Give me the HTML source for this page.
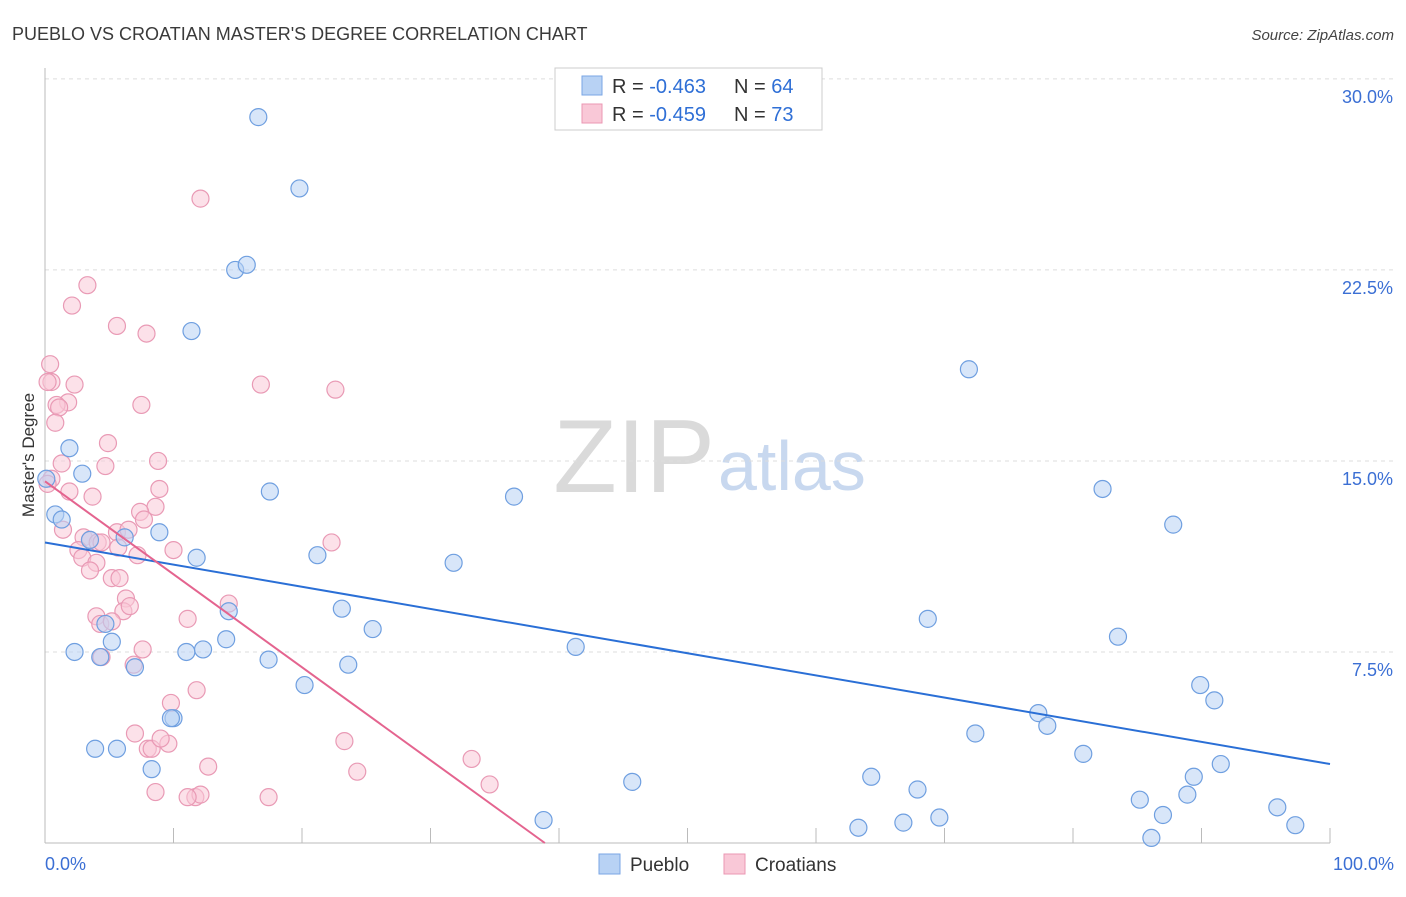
<!DOCTYPE html>
<html><head><meta charset="utf-8"><style>
body{margin:0;background:#fff;font-family:"Liberation Sans",sans-serif;}
svg text{font-family:"Liberation Sans",sans-serif;}
</style></head><body>
<svg id="chart" width="1406" height="892" xmlns="http://www.w3.org/2000/svg">
<text x="12" y="40" font-size="18" fill="#3a3a3a">PUEBLO VS CROATIAN MASTER'S DEGREE CORRELATION CHART</text>
<text x="1394" y="40" font-size="15" fill="#444" text-anchor="end" font-style="italic">Source: ZipAtlas.com</text>
<text x="715" y="492" font-size="104" text-anchor="end" fill="#dadada" font-family="Liberation Serif, serif">ZIP</text>
<text x="718" y="490" font-size="70" fill="#c8d8ef">atlas</text>
<text transform="translate(34,455) rotate(-90)" font-size="17" fill="#333" text-anchor="middle">Master's Degree</text>
<g id="grid"></g><g id="axes"></g><g id="marks"></g>
<g>
<rect x="555" y="68" width="267" height="62" fill="#fff" stroke="#ccc"/>
<rect x="582" y="76" width="20" height="19" fill="#b8d2f4" stroke="#7aa6e4"/>
<rect x="582" y="104" width="20" height="19" fill="#f9c8d7" stroke="#eb97b3"/>
<text x="612" y="93" font-size="20" fill="#333">R = <tspan fill="#2f6fd6">-0.463</tspan></text>
<text x="734" y="93" font-size="20" fill="#333">N = <tspan fill="#2f6fd6">64</tspan></text>
<text x="612" y="121" font-size="20" fill="#333">R = <tspan fill="#2f6fd6">-0.459</tspan></text>
<text x="734" y="121" font-size="20" fill="#333">N = <tspan fill="#2f6fd6">73</tspan></text>
</g>
<g>
<rect x="599" y="854" width="21" height="20" fill="#b8d2f4" stroke="#7aa6e4"/>
<text x="630" y="871" font-size="19" fill="#333">Pueblo</text>
<rect x="724" y="854" width="21" height="20" fill="#f9c8d7" stroke="#eb97b3"/>
<text x="755" y="871" font-size="19" fill="#333">Croatians</text>
</g>
</svg>
<script>
const yTicks=[7.5,15,22.5,30];
const yTickLabels=["7.5%","15.0%","22.5%","30.0%"];
const xTickLabels=["0.0%","100.0%"];
const blueX=[16.6,19.8,14.8,15.7,11.4,71.9,1.9,2.9,0.1,0.8,1.3,17.5,36.5,82.3,87.8,8.9,11.8,21.2,31.8,3.5,6.2,14.3,23.1,25.5,68.7,83.5,41.3,5.2,2.3,4.3,4.7,11.0,12.3,14.1,17.4,23.6,7.0,20.2,89.9,91.0,77.3,78.0,72.4,10.0,9.8,3.9,5.6,8.3,80.8,91.5,89.4,45.7,64.3,67.9,85.2,88.9,87.0,95.9,38.8,69.6,66.8,63.3,97.3,86.1];
const blueY=[28.5,25.7,22.5,22.7,20.1,18.6,15.5,14.5,14.3,12.9,12.7,13.8,13.6,13.9,12.5,12.2,11.2,11.3,11.0,11.9,12.0,9.1,9.2,8.4,8.8,8.1,7.7,7.9,7.5,7.3,8.6,7.5,7.6,8.0,7.2,7.0,6.9,6.2,6.2,5.6,5.1,4.6,4.3,4.9,4.9,3.7,3.7,2.9,3.5,3.1,2.6,2.4,2.6,2.1,1.7,1.9,1.1,1.4,0.9,1.0,0.8,0.6,0.7,0.2];
const pinkX=[12.1,3.3,2.1,5.6,7.9,0.4,0.5,0.2,2.3,16.8,22.6,7.5,1.8,0.9,1.1,0.8,4.9,8.8,1.3,4.7,0.5,0.2,1.9,3.7,8.9,8.6,7.4,7.7,1.4,5.6,3.0,6.5,3.5,4.1,4.4,5.7,22.3,10.0,2.6,2.9,7.2,4.0,3.5,5.2,5.8,6.3,4.0,6.1,6.6,14.3,4.3,5.2,11.1,7.6,4.4,6.9,9.8,11.8,7.0,9.6,8.0,8.3,23.3,9.0,33.2,12.7,24.3,8.6,34.6,11.7,12.1,17.4,11.1];
const pinkY=[25.3,21.9,21.1,20.3,20.0,18.8,18.1,18.1,18.0,18.0,17.8,17.2,17.3,17.2,17.1,16.5,15.7,15.0,14.9,14.8,14.3,14.1,13.8,13.6,13.9,13.2,13.0,12.7,12.3,12.2,12.0,12.3,11.9,11.8,11.8,11.6,11.8,11.5,11.5,11.2,11.3,11.0,10.7,10.4,10.4,9.6,8.9,9.1,9.3,9.4,8.6,8.7,8.8,7.6,7.3,7.0,5.5,6.0,4.3,3.9,3.7,3.7,4.0,4.1,3.3,3.0,2.8,2.0,2.3,1.8,1.9,1.8,1.8];
const blueTrend=[[0,11.8],[100,3.1]];
const pinkTrend=[[0,14.2],[38.9,0]];
const NS="http://www.w3.org/2000/svg";
const X=v=>45+v*12.85, Y=v=>843-v*25.47;
function mk(tag,attrs,parent){const e=document.createElementNS(NS,tag);for(const k in attrs)e.setAttribute(k,attrs[k]);document.getElementById(parent).appendChild(e);return e;}
yTicks.forEach((t,i)=>{
 const g=mk('line',{x1:45,x2:1394,y1:Y(t),y2:Y(t),stroke:'#ddd','stroke-dasharray':'4,4'},'grid');
 
 
 const l=mk('text',{x:1393,y:Y(t)+24,'font-size':18,fill:'#3b6fd4','text-anchor':'end'},'axes');l.textContent=yTickLabels[i];
 
 
});
const xa=mk('line',{x1:45,x2:1330,y1:843,y2:843,stroke:'#bbb'},'axes');


const ya=mk('line',{x1:45,x2:45,y1:68,y2:843,stroke:'#bbb'},'axes');


for(let i=0;i<=10;i++){const t=mk('line',{x1:X(i*10),x2:X(i*10),y1:828,y2:843,stroke:'#bbb'},'axes');
 
 }
[[0,'start',45],[100,'end',1394]].forEach((d,i)=>{const t=mk('text',{x:d[2],y:870,'font-size':18,fill:'#3b6fd4','text-anchor':d[1]},'axes');t.textContent=xTickLabels[i];
 
 });
function pts(xs,ys,fill,stroke,name){xs.forEach((x,i)=>{const c=mk('circle',{cx:X(x),cy:Y(ys[i]),r:8.5,fill:fill,'fill-opacity':0.55,stroke:stroke,'stroke-width':1.2},'marks');
 
 });}
pts(pinkX,pinkY,'#f9c8d7','#e99ab5','croatians-point');
pts(blueX,blueY,'#b8d2f4','#6f9fe0','pueblo-point');
const bl=mk('line',{x1:X(blueTrend[0][0]),y1:Y(blueTrend[0][1]),x2:X(blueTrend[1][0]),y2:Y(blueTrend[1][1]),stroke:'#2a6fd6','stroke-width':2},'marks');


const pl=mk('line',{x1:X(pinkTrend[0][0]),y1:Y(pinkTrend[0][1]),x2:X(pinkTrend[1][0]),y2:Y(pinkTrend[1][1]),stroke:'#e4648f','stroke-width':2},'marks');


</script>
</body></html>
